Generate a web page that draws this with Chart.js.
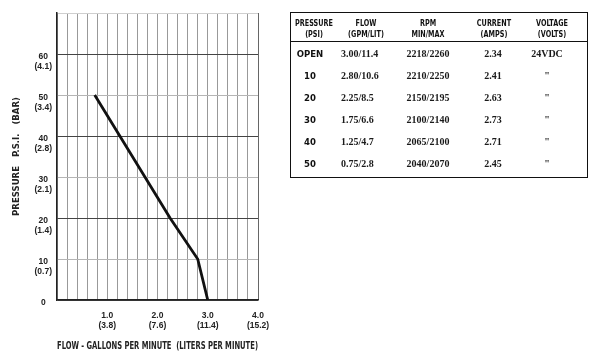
<!DOCTYPE html>
<html>
<head>
<meta charset="utf-8">
<style>
  html, body { margin: 0; padding: 0; background: #fff; }
  #wrap { position: relative; width: 600px; height: 360px; overflow: hidden; background: #fff; }
  #c { position: absolute; left: 0; top: 0; }
  #tbl { position: absolute; left: 290px; top: 12px; width: 298px; height: 166px; border: 1.5px solid #111; box-sizing: border-box; }
  #hline { position: absolute; left: 290px; top: 41px; width: 298px; height: 1px; background: #111; }
  .t { position: absolute; white-space: nowrap; line-height: 1; color: #1a1a1a; }
  .c { transform: translate(-50%, -50%); }
  .l { transform: translate(0, -50%); }
  .hdr { font-family: 'DejaVu Sans Condensed', 'DejaVu Sans', sans-serif; font-stretch: condensed; font-weight: bold; font-size: 9px; color: #111; }
  .hdr.c { transform: translate(-50%, -50%) scaleX(0.8); }
  .prs { font-family: 'DejaVu Sans Condensed', 'DejaVu Sans', sans-serif; font-stretch: condensed; font-weight: bold; font-size: 9.5px; color: #111; }
  .val { font-family: 'Liberation Serif', 'Times New Roman', serif; font-weight: bold; font-size: 10px; }
</style>
<script src="https://cdn.jsdelivr.net/npm/chart.js@4"></script>
</head>
<body>
<div id="wrap">
  <canvas id="c" width="600" height="360"></canvas>
  <div id="tbl"></div>
  <div id="hline"></div>
</div>
<script>
// ---- Curve data (flow in GPM vs pressure in PSI) ----
const pressurePsi = [0, 10, 20, 30, 40, 50];
const flowGpm = [3.00, 2.80, 2.25, 1.75, 1.25, 0.75];
const flowLpm = [11.4, 10.6, 8.5, 6.6, 4.7, 2.8];

// ---- Table data ----
const pressureLabels = ['OPEN', '10', '20', '30', '40', '50'];
const rpmMin = [2218, 2210, 2150, 2100, 2065, 2040];
const rpmMax = [2260, 2250, 2195, 2140, 2100, 2070];
const currentAmps = ['2.34', '2.41', '2.63', '2.73', '2.71', '2.45'];
const voltageVolts = ['24VDC', '"', '"', '"', '"', '"'];
const tableHeaders = [['PRESSURE', '(PSI)'], ['FLOW', '(GPM/LIT)'], ['RPM', 'MIN/MAX'], ['CURRENT', '(AMPS)'], ['VOLTAGE', '(VOLTS)']];

// ---- Tick labels ----
const yTickPsi = [0, 10, 20, 30, 40, 50, 60];
const yTickBar = ['', '(0.7)', '(1.4)', '(2.1)', '(2.8)', '(3.4)', '(4.1)'];
const xTickGpm = [1, 2, 3, 4];
const xTickLpm = ['(3.8)', '(7.6)', '(11.4)', '(15.2)'];

const xTitle = 'FLOW - GALLONS PER MINUTE  (LITERS PER MINUTE)';
const yTitle = 'PRESSURE   P.S.I.   (BAR)';

const narrowFont = "'Liberation Sans Narrow', 'Arial Narrow', 'DejaVu Sans Condensed', 'Liberation Sans', sans-serif";
const tickFont = "'Liberation Sans', Arial, sans-serif";

// ---- Table (HTML text) ----
(function buildTable() {
  const wrap = document.getElementById('wrap');
  const hdrX = [314, 366, 428, 494, 552];
  function add(text, cls, x, y, align) {
    const d = document.createElement('div');
    d.className = 't ' + cls + ' ' + (align || 'c');
    d.textContent = text;
    d.style.left = x + 'px';
    d.style.top = y + 'px';
    wrap.appendChild(d);
  }
  tableHeaders.forEach((h, i) => {
    add(h[0], 'hdr', hdrX[i], 23);
    add(h[1], 'hdr', hdrX[i], 33.5);
  });
  const rowY0 = 53.5, rowStep = 22;
  pressureLabels.forEach((p, i) => {
    const y = rowY0 + i * rowStep;
    add(p, 'prs', 310, y);
    add(flowGpm[i].toFixed(2) + '/' + flowLpm[i].toFixed(1), 'val', 341, y, 'l');
    add(rpmMin[i] + '/' + rpmMax[i], 'val', 428, y);
    add(currentAmps[i], 'val', 493, y);
    add(voltageVolts[i], 'val', 547, y);
  });
})();

// ---- Chart ----
function near(a, b) { return Math.abs(a - b) < 1e-6; }

new Chart(document.getElementById('c').getContext('2d'), {
  type: 'line',
  data: {
    datasets: [{
      data: flowGpm.map((f, i) => ({ x: f, y: pressurePsi[i] })),
      borderColor: '#111',
      borderWidth: 2.8,
      pointRadius: 0,
      tension: 0,
      fill: false,
      borderJoinStyle: 'miter'
    }]
  },
  options: {
    responsive: false,
    animation: false,
    devicePixelRatio: 1,
    layout: { padding: { left: 0, top: 13, right: 342, bottom: 0 } },
    plugins: { legend: { display: false }, tooltip: { enabled: false } },
    scales: {
      x: {
        type: 'linear',
        min: 0,
        max: 4,
        afterFit(s) { s.height = 60; },
        ticks: {
          stepSize: 0.2,
          maxTicksLimit: 100,
          autoSkip: false,
          maxRotation: 0,
          minRotation: 0,
          padding: 10,
          color: '#222',
          font: { family: tickFont, size: 8.5, weight: 'bold', lineHeight: 1.25 },
          callback(v) {
            const j = xTickGpm.findIndex(g => near(g, v));
            return j < 0 ? '' : [xTickGpm[j].toFixed(1), xTickLpm[j]];
          }
        },
        grid: {
          drawTicks: false,
          lineWidth: 1,
          color(ctx) {
            const v = ctx.tick ? ctx.tick.value : 0;
            if (near(v, 4)) return '#666';
            return '#999';
          }
        },
        border: { color: '#222', width: 1.5 },
        title: {
          display: true,
          text: xTitle,
          color: '#222',
          font: { family: narrowFont, size: 9.7, weight: 'bold', lineHeight: 1.2 },
          padding: { top: 0, bottom: 8 }
        }
      },
      y: {
        type: 'linear',
        min: 0,
        max: 70,
        afterFit(s) { s.width = 57; },
        ticks: {
          stepSize: 10,
          crossAlign: 'center',
          padding: 5,
          labelOffset: 7.5,
          color: '#222',
          font: { family: tickFont, size: 8.5, weight: 'bold', lineHeight: 1.2 },
          callback(v) {
            const j = yTickPsi.indexOf(v);
            return j < 0 ? '' : [String(yTickPsi[j]), yTickBar[j]];
          }
        },
        grid: {
          drawTicks: false,
          lineWidth: 1,
          color(ctx) {
            const v = ctx.tick ? ctx.tick.value : 0;
            if (v === 70) return '#cfcfcf';
            if (v % 20 === 0) return '#444';
            return '#b5b5b5';
          }
        },
        border: { color: '#222', width: 1.5 },
        title: {
          display: true,
          text: yTitle,
          color: '#222',
          font: { family: narrowFont, size: 9.5, weight: 'bold', lineHeight: 1.2 },
          padding: { top: 11, bottom: 0 }
        }
      }
    }
  }
});
</script>
</body>
</html>
